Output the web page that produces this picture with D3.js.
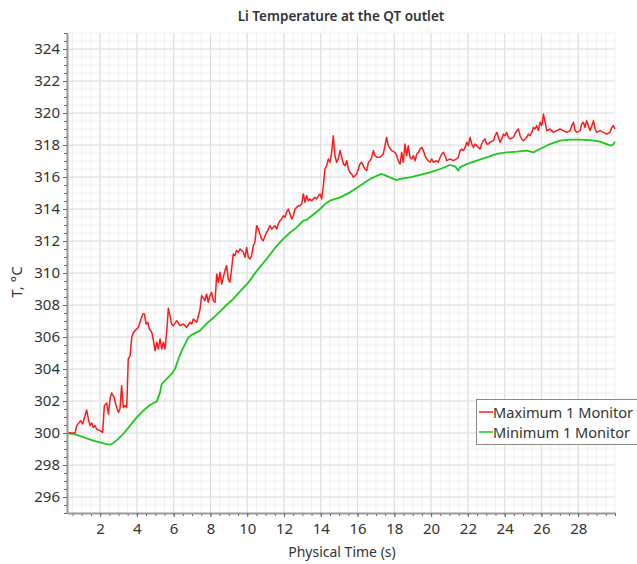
<!DOCTYPE html>
<html><head><meta charset="utf-8">
<script src="https://cdn.jsdelivr.net/npm/d3@7"></script>
<style>
body{margin:0;background:#fff}
svg text{font-family:"Noto Sans",sans-serif;fill:#333}
</style>
</head><body>
<svg id="chart" width="637" height="564"></svg>
<script>
// ---- data ----
const seriesNames = ["Maximum 1 Monitor", "Minimum 1 Monitor"];
const seriesColors = ["#ff1a1a", "#1ec81e"];

const maxTime = [0.2,0.64,0.73,0.94,1.05,1.18,1.27,1.36,1.45,1.54,1.63,1.72,1.81,1.99,2.14,2.23,2.36,2.45,2.54,2.63,2.76,2.86,2.99,3.08,3.17,3.26,3.35,3.45,3.53,3.63,3.72,3.81,3.99,4.08,4.17,4.32,4.41,4.5,4.59,4.68,4.81,4.9,4.99,5.08,5.17,5.26,5.35,5.44,5.53,5.62,5.71,5.8,5.89,5.98,6.17,6.34,6.53,6.71,6.89,6.98,7.07,7.25,7.43,
7.52,7.70,7.79,7.88,7.97,8.06,8.16,8.25,8.34,8.43,8.52,8.61,8.7,8.79,8.88,8.97,9.06,9.15,9.24,9.33,9.42,9.51,9.61,9.70,9.79,9.88,9.97,10.06,10.15,10.24,10.33,10.42,10.51,10.6,10.69,10.78,10.87,10.97,11.06,11.24,11.33,11.42,11.51,11.6,11.69,11.78,11.87,11.96,12.05,12.14,12.23,12.33,12.42,12.51,12.6,12.78,12.87,12.96,13.05,13.14,13.23,13.32,13.41,13.5,13.59,13.68,13.78,13.87,13.96,14.05,14.14,14.23,14.32,14.41,14.5,14.59,14.68,14.77,14.86,14.95,15.05,15.14,15.23,15.32,15.41,15.5,15.59,15.68,15.77,15.95,16.04,16.13,16.22,16.31,16.4,16.5,16.59,16.68,16.77,16.86,16.95,17.04,17.22,17.4,17.49,17.58,17.67,17.85,18.04,18.13,18.22,
18.31,18.40,18.49,18.58,18.67,18.76,18.85,18.94,19.04,19.13,19.22,19.31,19.4,19.49,19.58,19.67,19.76,19.85,19.94,20.03,20.12,20.3,20.39,20.49,20.58,20.67,20.76,20.85,21.03,21.21,21.39,21.48,21.57,21.66,21.75,21.85,21.94,22.03,22.12,22.21,22.3,22.39,22.48,22.66,22.75,22.84,22.93,23.02,23.11,23.2,23.39,23.48,23.57,23.66,23.75,23.84,23.93,24.02,24.11,24.2,24.29,24.47,24.56,24.66,24.75,24.84,24.93,25.02,25.11,25.2,25.29,25.38,25.47,25.56,25.65,25.74,25.83,25.92,26.02,26.11,26.2,26.29,26.47,26.65,26.83,27.01,27.19,27.38,27.56,27.65,27.74,27.83,27.92,28.1,28.19,28.28,28.37,28.46,28.55,28.64,28.74,28.83,28.92,29.01,29.19,29.37,29.55,29.73,29.82,29.91,30.0];
const maxTemp = [300.0,300.0,300.46,300.77,300.56,301.08,301.44,300.88,300.46,300.63,300.35,300.46,300.25,300.15,300.04,301.71,301.88,301.19,302.13,302.5,302.23,301.75,301.29,301.5,302.96,301.6,301.71,301.6,304.63,304.83,305.98,306.29,306.5,306.6,306.92,307.44,307.44,306.81,306.92,306.5,306.29,305.77,305.15,305.67,305.25,305.88,305.25,305.67,305.25,306.29,307.79,307.33,306.81,306.71,307.02,306.71,306.81,306.6,306.92,306.81,307.13,306.92,307.7,
308.58,308.27,308.69,308.17,308.58,308.79,308.27,308.17,309.94,309.42,310.04,309.31,309.73,310.15,310.46,309.63,309.42,310.25,311.19,311.08,311.4,311.29,311.5,311.4,311.29,310.98,311.6,310.98,310.88,311.08,311.71,311.92,312.96,312.75,312.44,312.13,312.02,312.33,312.54,312.96,312.75,312.85,312.96,312.75,313.06,313.27,313.38,313.58,313.48,313.79,314.0,313.69,313.38,313.58,314.0,314.21,314.21,314.31,314.94,314.42,314.83,314.52,314.63,314.52,314.63,314.73,314.63,314.83,314.94,314.63,315.46,316.5,316.71,317.13,316.92,317.54,318.58,317.33,316.92,317.13,317.65,317.23,316.81,316.71,317.02,316.5,316.29,316.19,315.98,316.19,316.5,316.81,316.92,316.71,316.5,316.4,316.92,317.02,317.23,317.65,317.33,317.23,317.23,317.44,317.96,318.48,317.96,317.65,317.54,317.33,317.0,
316.81,317.54,316.92,318.06,317.33,317.96,317.23,317.13,317.33,317.02,317.44,317.54,317.75,317.85,317.65,317.33,317.13,317.02,316.92,317.13,316.92,317.02,316.92,317.23,317.44,317.54,317.33,317.02,317.13,317.02,317.13,317.23,317.65,317.75,317.65,317.85,318.17,317.96,318.48,318.06,317.85,318.06,317.96,317.75,318.06,318.27,318.38,318.06,318.06,318.17,318.27,318.58,318.79,318.48,318.17,318.38,318.69,318.58,318.79,318.48,318.38,318.48,318.69,318.9,319.0,318.58,318.38,318.27,318.38,318.48,318.69,318.58,318.79,319.1,319.0,319.21,318.9,319.42,319.21,319.94,319.42,318.9,319.0,318.79,318.9,319.0,318.9,318.79,318.9,319.21,319.42,318.9,318.79,318.9,319.31,319.42,319.1,319.52,319.21,318.9,319.21,319.52,319.0,318.79,318.9,318.79,318.69,318.79,319.1,319.21,319.0];

const minTime = [0.2,0.5,0.73,1.0,1.27,1.63,1.99,2.36,2.54,2.72,2.99,3.26,3.63,3.99,4.35,4.71,4.99,5.08,5.26,5.35,5.62,5.89,6.07,6.26,6.44,6.62,6.8,6.98,7.25,7.43,7.8,8.16,8.52,8.88,9.25,9.61,10.06,10.5,11.06,11.5,11.96,12.3,12.69,13.05,13.2,13.41,13.7,13.96,14.23,14.5,15.05,15.59,16.13,16.68,17.0,17.31,17.5,17.76,18.13,18.31,18.85,19.4,19.94,20.49,21.03,21.3,21.48,21.57,21.94,22.48,23.02,23.57,24.11,24.66,25.2,25.56,25.92,26.47,27.01,27.56,28.1,28.64,29.19,29.55,29.82,29.91,30.0];
const minTemp = [300.0,299.95,299.88,299.78,299.67,299.52,299.42,299.31,299.27,299.38,299.63,299.94,300.46,300.98,301.4,301.75,301.92,301.96,302.54,303.06,303.38,303.69,304.0,304.63,305.15,305.56,305.98,306.13,306.29,306.4,306.85,307.2,307.6,308.0,308.4,308.85,309.4,310.1,310.88,311.55,312.13,312.5,312.85,313.27,313.3,313.48,313.75,314.0,314.31,314.52,314.73,315.04,315.46,315.88,316.05,316.19,316.1,315.98,315.81,315.88,315.98,316.13,316.29,316.5,316.75,316.67,316.4,316.6,316.81,317.02,317.23,317.44,317.54,317.58,317.65,317.54,317.75,318.06,318.27,318.33,318.33,318.31,318.21,318.06,317.96,318.06,318.2];

const xTickLabels = [2,4,6,8,10,12,14,16,18,20,22,24,26,28];
const yTickLabels = [296,298,300,302,304,306,308,310,312,314,316,318,320,322,324];
const xMinor = d3.range(0.5, 30.01, 0.5);
const yMinor = d3.range(295, 325.01, 0.5);

// ---- drawing ----
const svg = d3.select("#chart");
svg.append("rect").attr("width",637).attr("height",564).attr("fill","#fff");

const x = d3.scaleLinear().domain([0.2, 30]).range([67, 615]);
const y = d3.scaleLinear().domain([295, 325]).range([513, 33]);

const grid = svg.append("g");
grid.selectAll(".gxm").data(xMinor).join("line")
  .attr("x1", d => x(d)).attr("x2", d => x(d)).attr("y1", y(295)).attr("y2", y(325))
  .attr("stroke", "#f0f0f0").attr("stroke-width", 1);
grid.selectAll(".gym").data(yMinor).join("line")
  .attr("y1", d => y(d)).attr("y2", d => y(d)).attr("x1", x(0.2)).attr("x2", x(30))
  .attr("stroke", "#f0f0f0").attr("stroke-width", 1);
grid.selectAll(".gxM").data(xTickLabels).join("line")
  .attr("x1", d => x(d)).attr("x2", d => x(d)).attr("y1", y(295)).attr("y2", y(325))
  .attr("stroke", "#e0e0e0").attr("stroke-width", 1.2);
grid.selectAll(".gyM").data(yTickLabels).join("line")
  .attr("y1", d => y(d)).attr("y2", d => y(d)).attr("x1", x(0.2)).attr("x2", x(30))
  .attr("stroke", "#e0e0e0").attr("stroke-width", 1.2);

// series
const line = d3.line().x(d => x(d[0])).y(d => y(d[1]));
const maxData = maxTime.map((t,i) => [t, maxTemp[i]]);
const minData = minTime.map((t,i) => [t, minTemp[i]]);
svg.append("path").datum(minData).attr("d", line).attr("fill","none")
  .attr("stroke", seriesColors[1]).attr("stroke-width", 1.8).attr("stroke-linejoin","round");
svg.append("path").datum(maxData).attr("d", line).attr("fill","none")
  .attr("stroke", seriesColors[0]).attr("stroke-width", 1.5).attr("stroke-linejoin","round");

// axes
function styleAxis(g){
  g.select(".domain").attr("stroke","#999").attr("stroke-width",1.6);
  g.selectAll(".tick line").attr("stroke","#666");
  g.selectAll(".tick text").style("font-family","'Noto Sans',sans-serif").style("font-size","15px").attr("fill","#333");
}
const xAxisMinor = svg.append("g").attr("transform",`translate(0,${y(295)})`)
  .call(d3.axisBottom(x).tickValues(xMinor).tickSize(3).tickSizeOuter(0).tickFormat(""));
styleAxis(xAxisMinor);
const xAxis = svg.append("g").attr("transform",`translate(0,${y(295)})`)
  .call(d3.axisBottom(x).tickValues(xTickLabels).tickSize(4).tickSizeOuter(0).tickPadding(6).tickFormat(d3.format("d")));
styleAxis(xAxis);
const yAxisMinor = svg.append("g").attr("transform",`translate(${x(0.2)},0)`)
  .call(d3.axisLeft(y).tickValues(yMinor).tickSize(3).tickSizeOuter(0).tickFormat(""));
styleAxis(yAxisMinor);
const yAxis = svg.append("g").attr("transform",`translate(${x(0.2)},0)`)
  .call(d3.axisLeft(y).tickValues(yTickLabels).tickSize(4).tickSizeOuter(0).tickPadding(3).tickFormat(d3.format("d")));
styleAxis(yAxis);

// titles
svg.append("text").attr("x", 341).attr("y", 21).attr("text-anchor","middle")
  .style("font-size","13.5px").style("font-weight","600").text("Li Temperature at the QT outlet");
svg.append("text").attr("x", 342).attr("y", 557).attr("text-anchor","middle")
  .style("font-size","14px").text("Physical Time (s)");
svg.append("text").attr("transform","translate(22,282) rotate(-90)").attr("text-anchor","middle")
  .style("font-size","15px").text("T, °C");

// legend
const lg = svg.append("g");
lg.append("rect").attr("x",476.5).attr("y",399.5).attr("width",170).attr("height",45)
  .attr("fill","#fff").attr("stroke","#888").attr("stroke-width",1);
seriesNames.forEach((name,i) => {
  const yy = 412 + i*20;
  lg.append("line").attr("x1",479).attr("x2",493).attr("y1",yy).attr("y2",yy)
    .attr("stroke",seriesColors[i]).attr("stroke-width",1.5);
  lg.append("text").attr("x",493).attr("y",yy+5.5).style("font-size","14.6px").text(name);
});
</script>
</body></html>
